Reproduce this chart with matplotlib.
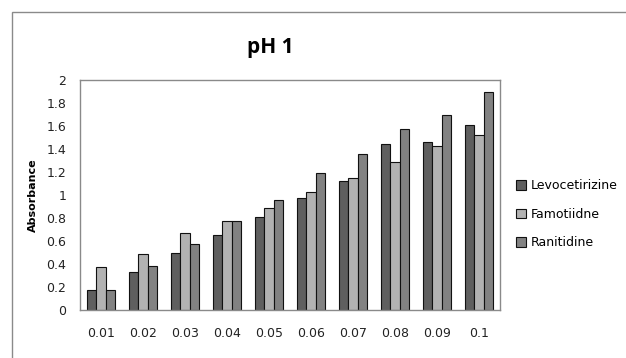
import matplotlib
matplotlib.use("Agg")
import matplotlib.pyplot as plt
import numpy as np
from matplotlib.patches import Rectangle

categories = ["0.01", "0.02", "0.03", "0.04", "0.05", "0.06", "0.07", "0.08", "0.09", "0.1"]
levocetirizine = [0.17, 0.33, 0.50, 0.65, 0.81, 0.97, 1.12, 1.44, 1.46, 1.61]
famotiidne = [0.37, 0.49, 0.67, 0.77, 0.89, 1.03, 1.15, 1.29, 1.43, 1.52]
ranitidine = [0.17, 0.38, 0.57, 0.77, 0.96, 1.19, 1.36, 1.57, 1.70, 1.90]
series_names = ["Levocetirizine", "Famotiidne", "Ranitidine"]
colors = ["#5f5f5f", "#b2b2b2", "#828282"]

fig = plt.figure(figsize=(6.26, 3.58), dpi=100)
fig.patches.append(Rectangle((12/626, -0.1), 1.2, (358-12)/358 + 0.1,
                             transform=fig.transFigure, fill=False,
                             edgecolor="#8a8a8a", linewidth=1.0))
ax = fig.add_axes([80/626, 48/358, 420/626, 230/358])

x = np.arange(len(categories))
w = 0.23
for i, (vals, c, name) in enumerate(zip([levocetirizine, famotiidne, ranitidine], colors, series_names)):
    ax.bar(x + (i - 1) * w, vals, width=w, color=c, edgecolor="#111111", linewidth=0.8, label=name)

ax.set_xlim(-0.5, len(categories) - 0.5)
ax.set_ylim(0, 2)
ax.set_yticks(np.arange(0, 2.01, 0.2))
ax.set_yticklabels(["0", "0.2", "0.4", "0.6", "0.8", "1", "1.2", "1.4", "1.6", "1.8", "2"])
ax.set_xticks(x)
ax.set_xticklabels(categories)
ax.tick_params(axis="both", length=0, labelsize=9, colors="#222222")
ax.tick_params(axis="x", pad=12)
ax.tick_params(axis="y", pad=10)
for s in ax.spines.values():
    s.set_color("#8a8a8a")
    s.set_linewidth(1.0)

ax.set_ylabel("Absorbance", fontsize=8, fontweight="bold", labelpad=6)
fig.text(270/626, 1 - 48/358, "pH 1", fontsize=15, fontweight="bold", ha="center", va="center",
         family=["Open Sans", "DejaVu Sans"])

leg = fig.legend(loc="upper left", bbox_to_anchor=(505/626, 1 - 168/358), frameon=False,
                 fontsize=9, handlelength=0.8, handleheight=0.8, handletextpad=0.4,
                 labelspacing=1.25)

fig.savefig("out.png", dpi=100)
